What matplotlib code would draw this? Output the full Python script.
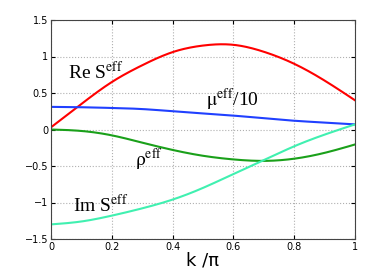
import numpy as np
import matplotlib
matplotlib.use("Agg")
import matplotlib.pyplot as plt

plt.rcParams['mathtext.fontset'] = 'stix'

k = [0.0, 0.1, 0.2, 0.3, 0.4, 0.5, 0.6, 0.7, 0.8, 0.9, 1.0]
re_s = [0.03, 0.35, 0.65, 0.88, 1.06, 1.15, 1.16, 1.065, 0.90, 0.67, 0.40]
mu = [0.31, 0.305, 0.295, 0.28, 0.25, 0.22, 0.19, 0.155, 0.12, 0.095, 0.07]
rho = [0.0, -0.02, -0.08, -0.18, -0.28, -0.36, -0.41, -0.43, -0.40, -0.32, -0.205]
im_s = [-1.3, -1.26, -1.18, -1.08, -0.96, -0.80, -0.61, -0.42, -0.23, -0.07, 0.07]


def spline(x, y, n=300):
    # natural cubic spline through the read points
    x = np.asarray(x, float)
    y = np.asarray(y, float)
    m = len(x)
    h = np.diff(x)
    A = np.zeros((m, m))
    b = np.zeros(m)
    A[0, 0] = A[-1, -1] = 1
    for i in range(1, m - 1):
        A[i, i - 1] = h[i - 1]
        A[i, i] = 2 * (h[i - 1] + h[i])
        A[i, i + 1] = h[i]
        b[i] = 6 * ((y[i + 1] - y[i]) / h[i] - (y[i] - y[i - 1]) / h[i - 1])
    M = np.linalg.solve(A, b)
    xs = np.linspace(x[0], x[-1], n)
    idx = np.clip(np.searchsorted(x, xs) - 1, 0, m - 2)
    x0, x1 = x[idx], x[idx + 1]
    hh = x1 - x0
    ys = (M[idx] * (x1 - xs)**3 + M[idx + 1] * (xs - x0)**3) / (6 * hh) \
        + (y[idx] / hh - M[idx] * hh / 6) * (x1 - xs) \
        + (y[idx + 1] / hh - M[idx + 1] * hh / 6) * (xs - x0)
    return xs, ys


fig = plt.figure(figsize=(3.92, 2.77), dpi=100)
ax = fig.add_axes([51/392, 1 - 239/277, 304/392, 219/277])

ax.plot(*spline(k, re_s), color='#ff0000', lw=1.5)
ax.plot(*spline(k, mu), color='#2040ff', lw=1.5)
ax.plot(*spline(k, rho), color='#1aa01a', lw=1.5)
ax.plot(*spline(k, im_s), color='#40f0b0', lw=1.5)

ax.set_xlim(0, 1)
ax.set_ylim(-1.5, 1.5)
ax.set_xticks([0, 0.2, 0.4, 0.6, 0.8, 1])
ax.set_xticklabels(['0', '0.2', '0.4', '0.6', '0.8', '1'])
ax.set_yticks([-1.5, -1, -0.5, 0, 0.5, 1, 1.5])
ax.set_yticklabels(['\u22121.5', '\u22121', '\u22120.5', '0', '0.5', '1', '1.5'])
ax.tick_params(direction='in', top=True, right=True, labelsize=7, length=3, pad=2)
ax.grid(True, linestyle=':', color='#b0b0b0', lw=0.8)
for s in ax.spines.values():
    s.set_linewidth(0.8)
    s.set_color('#444444')

tf = dict(family='Liberation Serif', fontsize=14, va='center')
ax.text(0.056, 0.79, r'Re S$^{\mathrm{eff}}$', **tf)
ax.text(0.51, 0.40, r'$\mathrm{\mu}^{\mathrm{eff}}$/10', **tf)
ax.text(0.276, -0.42, r'$\mathrm{\rho}^{\mathrm{eff}}$', **tf)
ax.text(0.073, -1.03, r'Im S$^{\mathrm{eff}}$', **tf)

ax.set_xlabel('k /\u03c0', fontsize=13, labelpad=0, family='DejaVu Sans')

fig.savefig('out.png', dpi=100)
